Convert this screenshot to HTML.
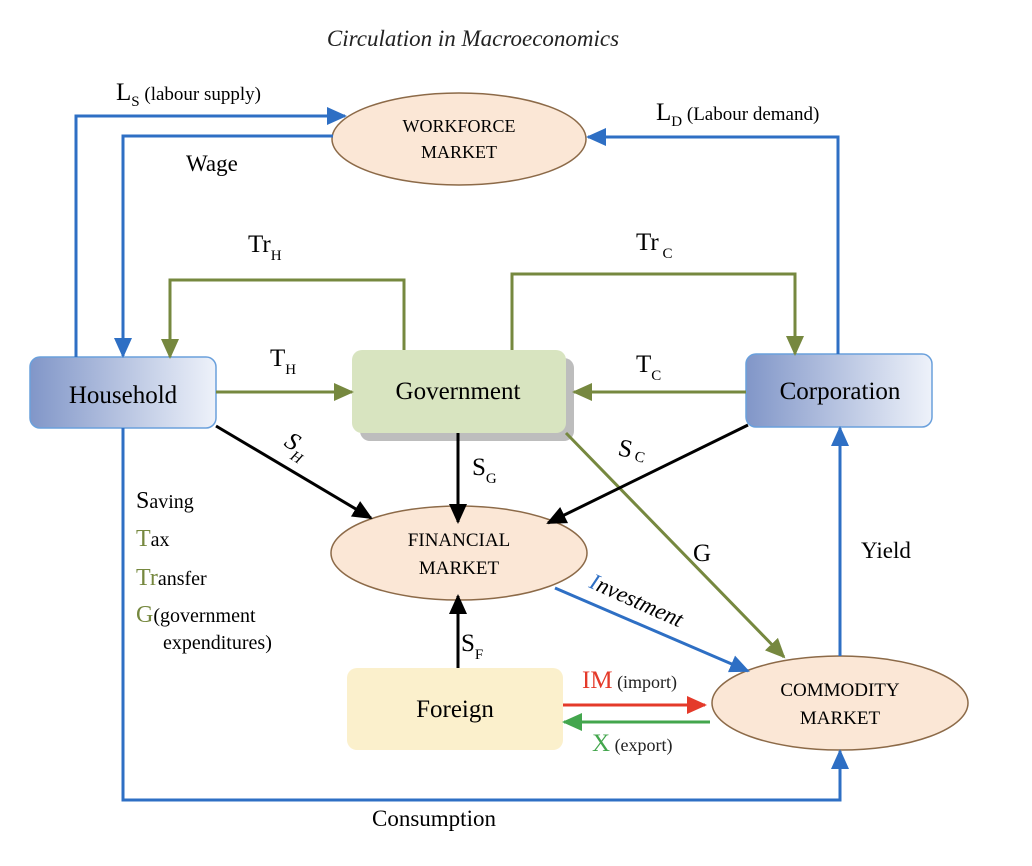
<!DOCTYPE html>
<html><head><meta charset="utf-8"><style>
html,body{margin:0;padding:0;background:#fff;}
svg{display:block;font-family:"Liberation Serif",serif;}
</style></head><body>
<svg width="1032" height="866" viewBox="0 0 1032 866" xmlns="http://www.w3.org/2000/svg">
<defs>
<linearGradient id="bg" x1="0" x2="1" y1="0" y2="0"><stop offset="0" stop-color="#8196c8"/><stop offset="1" stop-color="#eef2fa"/></linearGradient>
<marker id="ab" markerWidth="20" markerHeight="18" refX="18" refY="9" orient="auto" markerUnits="userSpaceOnUse" viewBox="0 0 20 18"><path d="M0,0L20,9L0,18z" fill="#2e6fc4"/></marker>
<marker id="ag" markerWidth="20" markerHeight="18" refX="18" refY="9" orient="auto" markerUnits="userSpaceOnUse" viewBox="0 0 20 18"><path d="M0,0L20,9L0,18z" fill="#76883f"/></marker>
<marker id="ak" markerWidth="20" markerHeight="18" refX="18" refY="9" orient="auto" markerUnits="userSpaceOnUse" viewBox="0 0 20 18"><path d="M0,0L20,9L0,18z" fill="#000"/></marker>
<marker id="ar" markerWidth="20" markerHeight="18" refX="18" refY="9" orient="auto" markerUnits="userSpaceOnUse" viewBox="0 0 20 18"><path d="M0,0L20,9L0,18z" fill="#e43a2a"/></marker>
<marker id="ax" markerWidth="20" markerHeight="18" refX="18" refY="9" orient="auto" markerUnits="userSpaceOnUse" viewBox="0 0 20 18"><path d="M0,0L20,9L0,18z" fill="#43a64d"/></marker>
</defs>
<style>
.b{stroke:#2e6fc4;stroke-width:3;fill:none;}
.g{stroke:#76883f;stroke-width:3;fill:none;}
.k{stroke:#000;stroke-width:3;fill:none;}
</style>
<g>
<text x="473" y="46" font-size="23" font-style="italic" text-anchor="middle" fill="#222">Circulation in Macroeconomics</text>

<!-- nodes -->
<ellipse cx="459" cy="139" rx="127" ry="46" fill="#fbe7d6" stroke="#8c6a48" stroke-width="1.5"/>
<text x="459" y="132" font-size="18" text-anchor="middle">WORKFORCE</text>
<text x="459" y="158" font-size="18" text-anchor="middle">MARKET</text>

<rect x="30" y="357" width="186" height="71" rx="10" fill="url(#bg)" stroke="#6aa0dc" stroke-width="1.5"/>
<text x="123" y="403" font-size="25" text-anchor="middle">Household</text>

<rect x="360" y="358" width="214" height="83" rx="10" fill="#bdbdbd"/>
<rect x="352" y="350" width="214" height="83" rx="10" fill="#d8e4c0"/>
<text x="458" y="399" font-size="25" text-anchor="middle">Government</text>

<rect x="746" y="354" width="186" height="73" rx="10" fill="url(#bg)" stroke="#6aa0dc" stroke-width="1.5"/>
<text x="840" y="399" font-size="25" text-anchor="middle">Corporation</text>

<ellipse cx="459" cy="553" rx="128" ry="47" fill="#fbe7d6" stroke="#8c6a48" stroke-width="1.5"/>
<text x="459" y="546" font-size="19" text-anchor="middle">FINANCIAL</text>
<text x="459" y="574" font-size="19" text-anchor="middle">MARKET</text>

<rect x="347" y="668" width="216" height="82" rx="10" fill="#fbf0cc"/>
<text x="455" y="717" font-size="25" text-anchor="middle">Foreign</text>

<ellipse cx="840" cy="703" rx="128" ry="47" fill="#fbe7d6" stroke="#8c6a48" stroke-width="1.5"/>
<text x="840" y="696" font-size="19" text-anchor="middle">COMMODITY</text>
<text x="840" y="724" font-size="19" text-anchor="middle">MARKET</text>

<!-- blue lines -->
<path class="b" d="M76,357V116H345" marker-end="url(#ab)"/>
<path class="b" d="M333,136H123V356" marker-end="url(#ab)"/>
<path class="b" d="M838,354V137H588" marker-end="url(#ab)"/>
<path class="b" d="M123,428V800H840V751" marker-end="url(#ab)"/>
<path class="b" d="M840,656V428" marker-end="url(#ab)"/>
<path class="b" d="M555,588L748,671" marker-end="url(#ab)"/>
<!-- green lines -->
<path class="g" d="M404,350V280H170V357" marker-end="url(#ag)"/>
<path class="g" d="M512,350V274H795V354" marker-end="url(#ag)"/>
<path class="g" d="M216,392H352" marker-end="url(#ag)"/>
<path class="g" d="M746,392H574" marker-end="url(#ag)"/>
<path class="g" d="M566,433L784,657" marker-end="url(#ag)"/>
<!-- black -->
<path class="k" d="M216,426L371,518" marker-end="url(#ak)"/>
<path class="k" d="M458,433V522" marker-end="url(#ak)"/>
<path class="k" d="M748,425L548,523" marker-end="url(#ak)"/>
<path class="k" d="M458,668V596" marker-end="url(#ak)"/>
<path d="M563,705H705" stroke="#e43a2a" stroke-width="3" marker-end="url(#ar)"/>
<path d="M710,722H564" stroke="#43a64d" stroke-width="3" marker-end="url(#ax)"/>

<!-- labels -->
<text x="116" y="100" font-size="25">L<tspan font-size="15" dy="6">S</tspan><tspan font-size="19" dy="-6"> (labour supply)</tspan></text>
<text x="186" y="171" font-size="23">Wage</text>
<text x="656" y="120" font-size="25">L<tspan font-size="15" dy="6">D</tspan><tspan font-size="19" dy="-6"> (Labour demand)</tspan></text>
<text x="248" y="252" font-size="25">Tr<tspan font-size="15" dy="8">H</tspan></text>
<text x="636" y="250" font-size="25">Tr<tspan font-size="15" dy="8"> C</tspan></text>
<text x="270" y="366" font-size="25">T<tspan font-size="15" dy="8">H</tspan></text>
<text x="636" y="372" font-size="25">T<tspan font-size="15" dy="8">C</tspan></text>
<text x="283" y="445" font-size="25" font-style="italic" transform="rotate(32 283 445)">S<tspan font-size="15" dy="8">H</tspan></text>
<text x="472" y="475" font-size="25">S<tspan font-size="15" dy="8">G</tspan></text>
<text x="617" y="455" font-size="25" transform="rotate(12 617 455)">S<tspan font-size="15" dy="2"> C</tspan></text>
<text x="693" y="561" font-size="25">G</text>
<text x="861" y="558" font-size="23">Yield</text>
<text x="588" y="587" font-size="23" font-style="italic" transform="rotate(24 588 587)"><tspan fill="#2e6fc4">I</tspan>nvestment</text>
<text x="461" y="651" font-size="25">S<tspan font-size="15" dy="8">F</tspan></text>
<text x="582" y="688" font-size="25" fill="#e43a2a">IM<tspan font-size="18" fill="#222"> (import)</tspan></text>
<text x="592" y="751" font-size="25" fill="#43a64d">X<tspan font-size="18" fill="#222"> (export)</tspan></text>
<text x="372" y="826" font-size="23">Consumption</text>

<text x="136" y="508" font-size="20"><tspan font-size="24">S</tspan>aving</text>
<text x="136" y="546" font-size="20"><tspan font-size="24" fill="#76883f">T</tspan>ax</text>
<text x="136" y="585" font-size="20"><tspan font-size="24" fill="#76883f">Tr</tspan>ansfer</text>
<text x="136" y="622" font-size="20"><tspan font-size="24" fill="#76883f">G</tspan>(government</text>
<text x="163" y="649" font-size="20">expenditures)</text>
</g>
</svg>
</body></html>
